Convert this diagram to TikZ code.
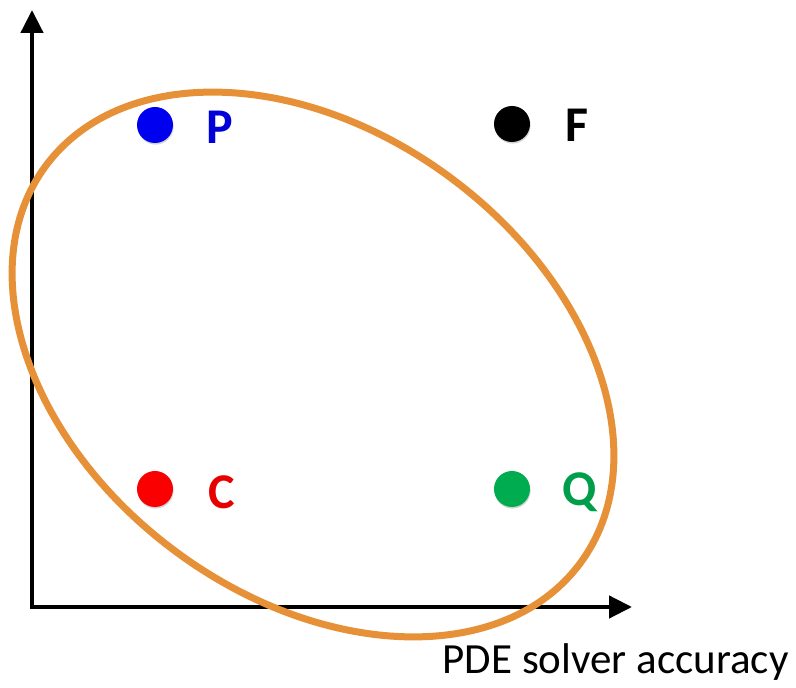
\documentclass[tikz,border=0pt]{standalone}
\usepackage{fontspec}
\setmainfont{Carlito}
\usepackage{xcolor}
\usetikzlibrary{arrows.meta, shadows}
\definecolor{ovalorange}{RGB}{230,145,56}
\definecolor{ptblue}{RGB}{0,0,240}
\definecolor{ptred}{RGB}{250,0,0}
\definecolor{ptgreen}{RGB}{0,172,80}
\begin{document}
\begin{tikzpicture}[x=1pt,y=1pt,
    dot/.style={circle,inner sep=0pt,minimum size=36pt,
      drop shadow={shadow xshift=0.6pt,shadow yshift=-1.6pt,opacity=0.35}},
    lbl/.style={font=\fontsize{50}{50}\selectfont\bfseries},
    axis/.style={line width=4.5pt,-{Triangle[length=23pt,width=22pt]}}]
    \useasboundingbox (0,0) rectangle (796,688);
    % axes
    \coordinate (origin) at (32,81);
    \coordinate (ytip) at (32,678);
    \coordinate (xtip) at (632,81);
    \draw[axis] ([yshift=-2.2pt]origin) -- (ytip);
    \draw[axis] ([xshift=-2.2pt]origin) -- (xtip);
    \node[anchor=base east,font=\fontsize{43}{43}\selectfont] (xlabel) at (792,14) {PDE solver accuracy};
    % points
    \node[dot,fill=ptblue] (p) at (155,563) {};
    \node[dot,fill=black] (f) at (512,564) {};
    \node[dot,fill=ptred] (c) at (155,199) {};
    \node[dot,fill=ptgreen] (q) at (512,199) {};
    \node[lbl,text=ptblue!90!black] (plabel) at (220,561) {P};
    \node[lbl,text=black] (flabel) at (577,563) {F};
    \node[lbl,text=ptred!92!black] (clabel) at (222,196) {C};
    \node[lbl,text=ptgreen!92!black] (qlabel) at (580,196) {Q};
    % oval
    \draw[ovalorange,line width=7pt,rotate around={-36.7:(313,323.5)}]
      (313,323.5) ellipse (333 and 232);
\end{tikzpicture}
\end{document}
